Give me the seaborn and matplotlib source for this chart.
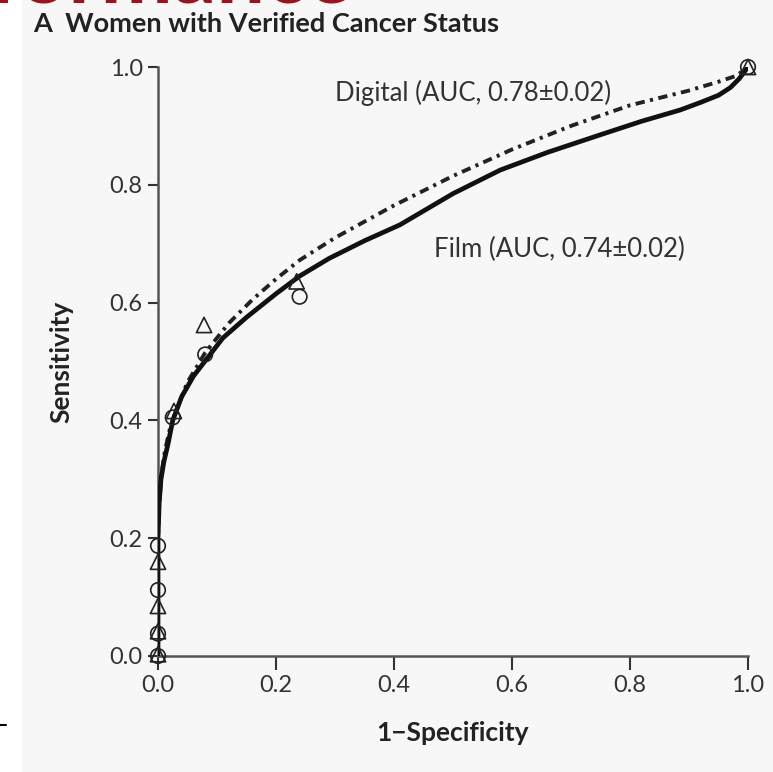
import matplotlib
matplotlib.use("Agg")
import matplotlib.pyplot as plt
import seaborn as sns
import pandas as pd
from matplotlib.patches import Rectangle
from matplotlib.lines import Line2D

# ---- data ----
film_fpr = [0.0, 0.0, 0.002, 0.005, 0.01, 0.017, 0.025, 0.04, 0.06, 0.083, 0.11, 0.15, 0.2, 0.24, 0.29,
            0.35, 0.41, 0.5, 0.58, 0.66, 0.75, 0.82, 0.885, 0.92, 0.95, 0.97, 0.985, 1.0]
film_tpr = [0.0, 0.2, 0.26, 0.3, 0.33, 0.36, 0.4, 0.44, 0.475, 0.505, 0.54, 0.575, 0.615, 0.645, 0.675,
            0.705, 0.732, 0.785, 0.825, 0.855, 0.885, 0.908, 0.927, 0.94, 0.952, 0.965, 0.98, 1.0]
digital_fpr = [0.0, 0.0, 0.002, 0.006, 0.012, 0.02, 0.03, 0.05, 0.08, 0.12, 0.16, 0.2, 0.24, 0.3,
               0.4, 0.5, 0.6, 0.7, 0.8, 0.9, 0.95, 0.98, 1.0]
digital_tpr = [0.0, 0.2, 0.26, 0.31, 0.35, 0.385, 0.415, 0.465, 0.515, 0.565, 0.605, 0.64, 0.672, 0.71,
               0.765, 0.815, 0.86, 0.9, 0.935, 0.96, 0.975, 0.985, 1.0]

film_pts_x = [1.0, 0.24, 0.08, 0.025, 0.0, 0.0, 0.0, 0.0]
film_pts_y = [1.0, 0.61, 0.512, 0.405, 0.187, 0.112, 0.038, 0.0]
digital_pts_x = [1.0, 0.235, 0.078, 0.027, 0.0, 0.0, 0.0, 0.0]
digital_pts_y = [1.0, 0.636, 0.562, 0.416, 0.16, 0.085, 0.042, 0.003]

x_ticks = [0.0, 0.2, 0.4, 0.6, 0.8, 1.0]
y_ticks = [0.0, 0.2, 0.4, 0.6, 0.8, 1.0]
tick_labels = ["0.0", "0.2", "0.4", "0.6", "0.8", "1.0"]

title = "A  Women with Verified Cancer Status"
digital_label = "Digital (AUC, 0.78\u00b10.02)"
film_label = "Film (AUC, 0.74\u00b10.02)"

# ---- figure ----
sns.set_style("ticks")
plt.rcParams['font.family'] = ['Lato', 'DejaVu Sans']

fig = plt.figure(figsize=(7.73, 7.72), dpi=100, facecolor="white")
W, H = 773, 772
bg = Rectangle((22 / W, 0), 1 - 22 / W, 1, transform=fig.transFigure,
               facecolor="#f7f7f7", edgecolor="none", zorder=0)
fig.add_artist(bg)
fig.add_artist(Line2D([0, 6 / W], [1 - 725 / H, 1 - 725 / H], transform=fig.transFigure,
                      color="black", lw=1.5))

ax = fig.add_axes([158 / W, 1 - 656 / H, (748 - 158) / W, (656 - 67) / H])
ax.set_facecolor("none")

film_df = pd.DataFrame({"x": film_fpr, "y": film_tpr})
dig_df = pd.DataFrame({"x": digital_fpr, "y": digital_tpr})
sns.lineplot(data=film_df, x="x", y="y", ax=ax, color="#111111", lw=3.4, sort=False,
             estimator=None, zorder=3)
sns.lineplot(data=dig_df, x="x", y="y", ax=ax, color="#222222", lw=2.8, sort=False,
             estimator=None, dashes=False, zorder=2)
ax.lines[-1].set_dashes([2.4, 1.4, 0.8, 1.4])

sns.scatterplot(x=film_pts_x, y=film_pts_y, ax=ax, marker="o", s=110, facecolor="none",
                edgecolor="#222222", linewidth=1.2, zorder=4, clip_on=False)
sns.scatterplot(x=digital_pts_x, y=digital_pts_y, ax=ax, marker="^", s=120, facecolor="none",
                edgecolor="#222222", linewidth=1.2, zorder=4, clip_on=False)

ax.set_xlim(0, 1)
ax.set_ylim(0, 1)
ax.set_xticks(x_ticks)
ax.set_xticklabels(tick_labels)
ax.set_yticks(y_ticks)
ax.set_yticklabels(tick_labels)
ax.tick_params(axis="both", labelsize=17, colors="#333333", length=7, width=1.5,
               direction="out", pad=4)
ax.tick_params(axis="x", length=10)
for s in ["top", "right"]:
    ax.spines[s].set_visible(False)
for s in ["left", "bottom"]:
    ax.spines[s].set_color("#555555")
    ax.spines[s].set_linewidth(1.8)
ax.spines["left"].set_zorder(1)

ax.set_xlabel("1\u2212Specificity", fontsize=19, fontweight="bold", color="#222222", labelpad=18)
ax.set_ylabel("Sensitivity", fontsize=19, fontweight="bold", color="#222222", labelpad=26)
ax.grid(False)

ax.text(0.30, 0.956, digital_label, fontsize=18.5, color="#333333", va="center", ha="left")
ax.text(0.468, 0.69, film_label, fontsize=18.5, color="#333333", va="center", ha="left")

fig.text(33 / W, 1 - 24 / H, title, fontsize=19.5, fontweight="bold", color="#222222",
         va="center", ha="left")
fig.text(-12 / W, 1 - 3 / H, "formance", fontsize=62, fontweight="bold", color="#8b1a22",
         va="baseline", ha="left")

fig.savefig("out.png", dpi=100, facecolor="white")
